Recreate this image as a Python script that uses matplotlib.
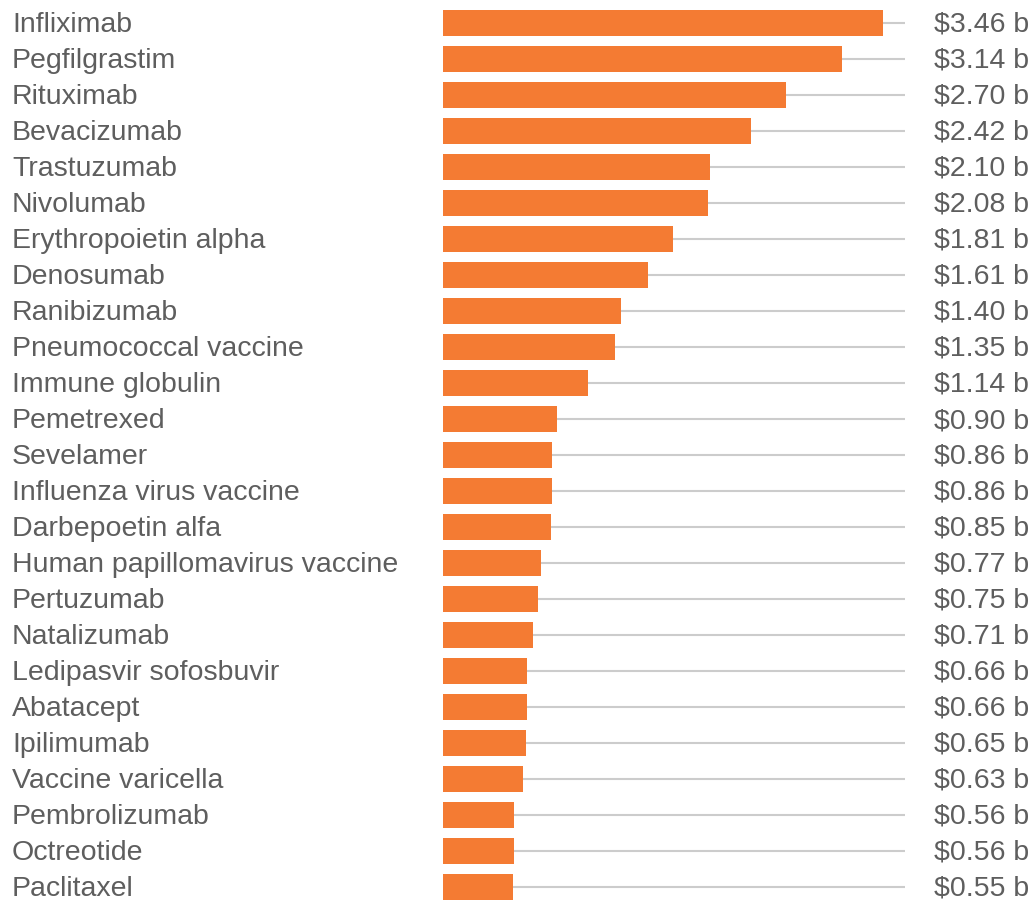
import matplotlib
matplotlib.use("Agg")
import matplotlib.pyplot as plt

# datos
drugs = ["Infliximab", "Pegfilgrastim", "Rituximab", "Bevacizumab", "Trastuzumab",
         "Nivolumab", "Erythropoietin alpha", "Denosumab", "Ranibizumab",
         "Pneumococcal vaccine", "Immune globulin", "Pemetrexed", "Sevelamer",
         "Influenza virus vaccine", "Darbepoetin alfa", "Human papillomavirus vaccine",
         "Pertuzumab", "Natalizumab", "Ledipasvir sofosbuvir", "Abatacept",
         "Ipilimumab", "Vaccine varicella", "Pembrolizumab", "Octreotide", "Paclitaxel"]
spend = [3.46, 3.14, 2.70, 2.42, 2.10, 2.08, 1.81, 1.61, 1.40, 1.35, 1.14, 0.90, 0.86,
         0.86, 0.85, 0.77, 0.75, 0.71, 0.66, 0.66, 0.65, 0.63, 0.56, 0.56, 0.55]

plt.rcParams['font.family'] = ['Liberation Sans', 'DejaVu Sans']

W, H = 1033, 900
fig = plt.figure(figsize=(W / 100, H / 100), dpi=100)
ax = fig.add_axes([443 / W, 0, 462 / W, 1])

xmax = 3.633
ypos = list(range(len(drugs)))

# lineas grises de fondo
ax.hlines(ypos, 0, xmax, color="#cccccc", linewidth=1.5, zorder=1)
ax.barh(ypos, spend, height=0.72, color="#f47b33", zorder=2)

ax.set_xlim(0, xmax)
ax.set_ylim((H - 23) / 36, -23 / 36)
ax.axis("off")

for y, name, v in zip(ypos, drugs, spend):
    yy = 1 - (25 + 36 * y) / H
    fig.text(12 / W, yy, name, fontsize=20.5, color="#5e5e5e", va="center", ha="left")
    fig.text(1029 / W, yy, "$%.2f b" % v, fontsize=20.5, color="#5e5e5e", va="center", ha="right")

fig.savefig("out.png", dpi=100)
